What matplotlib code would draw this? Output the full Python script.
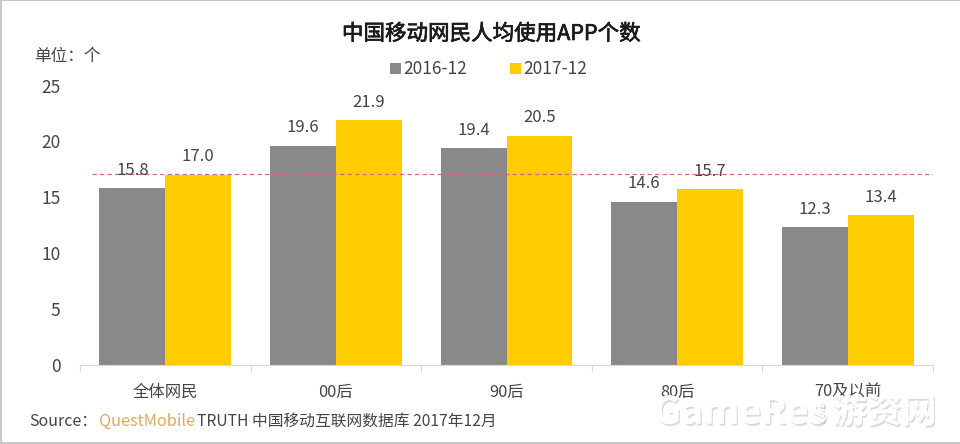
import matplotlib
matplotlib.use('Agg')
import matplotlib.pyplot as plt
import matplotlib.patheffects as pe
from matplotlib.patches import Rectangle
import numpy as np

plt.rcParams['font.family'] = ['Noto Sans CJK SC', 'DejaVu Sans']

categories = ['全体网民', '00后', '90后', '80后', '70及以前']
series_2016 = [15.8, 19.6, 19.4, 14.6, 12.3]
series_2017 = [17.0, 21.9, 20.5, 15.7, 13.4]
average_line = [17.1]
yticks = [0, 5, 10, 15, 20, 25]
legend_names = ['2016-12', '2017-12']

W, H = 960, 444
fig = plt.figure(figsize=(W/100, H/100), dpi=100)
ax = fig.add_axes([80/W, 1-365/H, 853/W, 279.5/H])
x = np.arange(len(categories))
bw = 0.386
GREY, YEL, TXT = '#8a8888', '#ffcc00', '#454545'
ax.bar(x-bw/2, series_2016, bw, color=GREY)
ax.bar(x+bw/2, series_2017, bw, color=YEL)
ax.set_xlim(-0.5, 4.5)
ax.set_ylim(0, 25)
for s in ['top', 'right', 'left']:
    ax.spines[s].set_visible(False)
ax.spines['bottom'].set_color('#d9d9d9')
ax.set_yticks(yticks)
ax.set_xticks(np.arange(-0.5, 5, 1))
ax.set_xticklabels([])
ax.tick_params(axis='y', length=0, labelsize=12.5, labelcolor=TXT, pad=14)
ax.tick_params(axis='x', length=5, color='#d9d9d9')
for xi, c in zip(x, categories):
    ax.annotate(c, (xi, 0), xytext=(0, -27), textcoords='offset pixels',
                ha='center', va='center', fontsize=11.8, color=TXT, zorder=7, annotation_clip=False)
ax.plot([-0.43, 4.5], [average_line[0]]*2, color='#cf6a88', lw=0.9, ls=(0, (3.5, 2.5)), zorder=3)
for xi, a, b in zip(x, series_2016, series_2017):
    ax.annotate(f'{a:.1f}', (xi-bw/2, a), xytext=(0, 18), textcoords='offset pixels',
                ha='center', va='center', fontsize=12, color=TXT, zorder=4)
    ax.annotate(f'{b:.1f}', (xi+bw/2, b), xytext=(0, 18), textcoords='offset pixels',
                ha='center', va='center', fontsize=12, color=TXT, zorder=4)

def t(px, py, s, **kw):
    return fig.text(px/W, 1-py/H, s, va='center', **kw)

title = t(491, 34, '中国移动网民人均使用APP个数', ha='center', fontsize=15.5, color='#1a1a1a')
title.set_path_effects([pe.withStroke(linewidth=0.5, foreground='#1a1a1a')])
t(34, 56, '单位：个', ha='left', fontsize=12, color=TXT)
for px, col, name in [(390, GREY, legend_names[0]), (510, YEL, legend_names[1])]:
    fig.add_artist(Rectangle((px/W, 1-74/H), 11/W, 11/H, transform=fig.transFigure, color=col, lw=0))
    t(px+13, 69, name, ha='left', fontsize=12.5, color=TXT)
t(29, 421, 'Source：', ha='left', fontsize=11.5, color=TXT)
t(99, 421, 'QuestMobile', ha='left', fontsize=11.7, color='#e0a860')
t(197, 421, 'TRUTH 中国移动互联网数据库 2017年12月', ha='left', fontsize=11.3, color=TXT)

wm = t(654, 412, 'GameRes', ha='left', fontsize=27, color='white', fontweight='bold', zorder=6)
wm2 = t(832, 412, '游资网', ha='left', fontsize=25, color='white', fontweight='bold', zorder=6)
wm3 = t(821, 412, 'com', ha='center', fontsize=7, color='white', fontweight='bold', rotation=90, zorder=6)
for w in (wm, wm2, wm3):
    w.set_path_effects([pe.withSimplePatchShadow(offset=(1, -1.5), shadow_rgbFace='#888888', alpha=0.3), pe.Normal()])

for (x0, y0, x1, y1) in [(0.5, 0, 0.5, H), (0, 0.5, W, 0.5), (0, H-1, W, H-1)]:
    fig.add_artist(plt.Line2D([x0/W, x1/W], [1-y0/H, 1-y1/H], color='#c8c8c8', lw=1.5))
fig.savefig('out.png', dpi=100)
